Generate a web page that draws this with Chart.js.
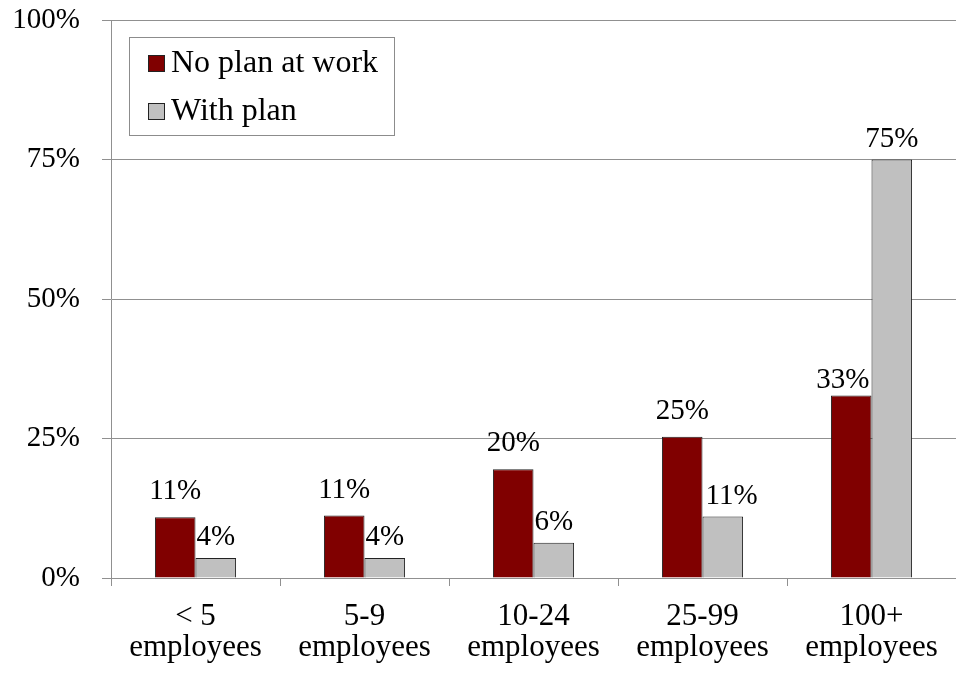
<!DOCTYPE html>
<html>
<head>
<meta charset="utf-8">
<script src="https://cdn.jsdelivr.net/npm/chart.js@4/dist/chart.umd.min.js"></script>
<style>
  html, body { margin: 0; padding: 0; background: #fff; }
  #wrap { width: 956px; height: 673px; position: relative; }
</style>
</head>
<body>
<div id="wrap"><canvas id="c" width="956" height="673"></canvas></div>
<script>
const categories = [["< 5", "employees"], ["5-9", "employees"], ["10-24", "employees"], ["25-99", "employees"], ["100+", "employees"]];
const seriesNames = ["No plan at work", "With plan"];
const noPlan = [10.9, 11.2, 19.5, 25.3, 32.7];
const withPlan = [3.6, 3.6, 6.3, 11.0, 75.0];
const yTicks = [0, 25, 50, 75, 100];

const SERIF = "'Liberation Serif', 'Times New Roman', serif";
const colors = ["#800000", "#c0c0c0"];
const labelGap = [18, 13];

const dataLabels = {
  id: 'dataLabels',
  afterDatasetsDraw(chart) {
    const ctx = chart.ctx;
    ctx.save();
    ctx.font = "29px " + SERIF;
    ctx.fillStyle = "#000";
    ctx.textAlign = "center";
    ctx.textBaseline = "alphabetic";
    const metas = chart.data.datasets.map((d, i) => chart.getDatasetMeta(i));
    metas.forEach((meta, di) => {
      meta.data.forEach((el, i) => {
        const v = chart.data.datasets[di].data[i];
        const txt = Math.round(v) + "%";
        let x = el.x;
        let y = el.y - labelGap[di];
        const w = ctx.measureText(txt).width;
        // avoid overlapping a taller neighbouring bar in the same category
        const next = metas[di + 1] && metas[di + 1].data[i];
        if (next && next.y < y && x + w / 2 > next.x - next.width / 2) {
          x = next.x - next.width / 2 - w / 2 - 2;
          y = el.y - 8;
        }
        const prev = di > 0 && metas[di - 1].data[i];
        if (prev && prev.y < y && x - w / 2 < prev.x + prev.width / 2) {
          x = prev.x + prev.width / 2 + w / 2 + 3;
        }
        ctx.fillText(txt, x, y);
      });
    });
    ctx.restore();
  }
};

const boxLegend = {
  id: 'boxLegend',
  afterDraw(chart) {
    const ctx = chart.ctx;
    const a = chart.chartArea;
    const bx = a.left + 18, by = a.top + 17, bw = 265, bh = 98;
    ctx.save();
    ctx.fillStyle = "#fff";
    ctx.fillRect(bx, by, bw, bh);
    ctx.strokeStyle = "#8c8c8c";
    ctx.lineWidth = 1;
    ctx.strokeRect(bx + 0.5, by + 0.5, bw, bh);
    ctx.font = "32px " + SERIF;
    ctx.textBaseline = "alphabetic";
    ctx.textAlign = "left";
    seriesNames.forEach((name, i) => {
      const cy = by + 26 + i * 48;
      ctx.fillStyle = colors[i];
      ctx.fillRect(bx + 19.5, cy - 8 + 0.5, 16, 16);
      ctx.strokeStyle = "#222";
      ctx.strokeRect(bx + 19.5, cy - 8 + 0.5, 16, 16);
      ctx.fillStyle = "#000";
      ctx.fillText(name, bx + 42, cy + 9);
    });
    ctx.restore();
  }
};

new Chart(document.getElementById('c'), {
  type: 'bar',
  data: {
    labels: categories,
    datasets: [
      { label: seriesNames[0], data: noPlan, backgroundColor: colors[0], borderColor: "#222", borderWidth: 1, categoryPercentage: 0.48, barPercentage: 1.0 },
      { label: seriesNames[1], data: withPlan, backgroundColor: colors[1], borderColor: "#222", borderWidth: 1, categoryPercentage: 0.48, barPercentage: 1.0 }
    ]
  },
  options: {
    responsive: false,
    animation: false,
    devicePixelRatio: 1,
    layout: { padding: { top: 20, right: 0, bottom: 0, left: 0 } },
    plugins: {
      legend: { display: false },
      tooltip: { enabled: false }
    },
    scales: {
      x: {
        grid: { drawOnChartArea: false, drawTicks: true, tickLength: 8, color: "#909090" },
        border: { color: "#909090" },
        ticks: {
          color: "#000",
          font: { family: SERIF, size: 31, lineHeight: 1.0 },
          padding: 15,
          maxRotation: 0,
          autoSkip: false
        },
        afterFit(scale) { scale.height = 95; scale.paddingLeft = 0; scale.paddingRight = 0; }
      },
      y: {
        min: 0, max: 100,
        afterBuildTicks(scale) { scale.ticks = yTicks.map(v => ({ value: v })); },
        grid: { color: "#909090", tickLength: 9 },
        border: { color: "#909090" },
        ticks: {
          color: "#000",
          font: { family: SERIF, size: 29 },
          padding: 22,
          callback: v => v + "%"
        },
        afterFit(scale) { scale.width = 111; scale.paddingTop = 0; scale.paddingBottom = 0; }
      }
    }
  },
  plugins: [dataLabels, boxLegend]
});
</script>
</body>
</html>
